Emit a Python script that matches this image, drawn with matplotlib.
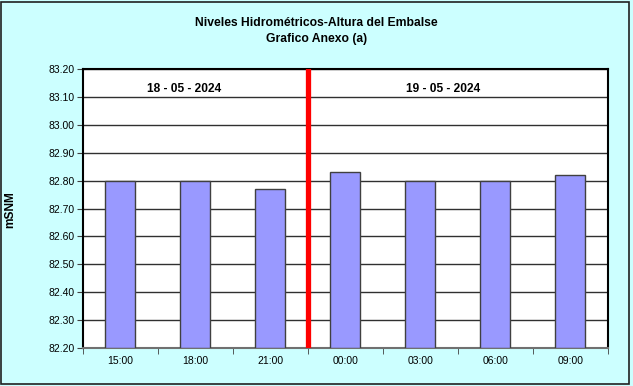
import matplotlib
matplotlib.use("Agg")
import matplotlib.pyplot as plt
from matplotlib.patches import Rectangle
import numpy as np

categories = ["15:00", "18:00", "21:00", "00:00", "03:00", "06:00", "09:00"]
values = [82.80, 82.80, 82.77, 82.83, 82.80, 82.80, 82.82]
yticks = [82.20, 82.30, 82.40, 82.50, 82.60, 82.70, 82.80, 82.90, 83.00, 83.10, 83.20]
dates = ["18 - 05 - 2024", "19 - 05 - 2024"]
separator_index = 2.5

plt.rcParams['font.family'] = ['Liberation Sans', 'DejaVu Sans']

fig = plt.figure(figsize=(6.33, 3.86), dpi=100)
fig.patch.set_facecolor("#CCFFFF")
fig.patches.append(Rectangle((0.002, 0.006), 0.991, 0.99, transform=fig.transFigure,
                             fill=False, edgecolor="#202020", linewidth=1.2))

ax = fig.add_axes([0.131, 0.0984, 0.8295, 0.7228])
ax.set_facecolor("white")
x = np.arange(len(categories))
ax.bar(x, [v - 82.2 for v in values], bottom=82.2, width=0.4, color="#9999FF",
       edgecolor="#404040", linewidth=1.0, zorder=3)
ax.set_xlim(-0.5, len(categories) - 0.5)
ax.set_ylim(82.2, 83.2)
ax.set_yticks(yticks)
ax.set_yticklabels([f"{t:.2f}" for t in yticks], fontsize=7.5)
ax.set_xticks(x)
ax.set_xticklabels(categories, fontsize=7.5)
ax.tick_params(axis='x', length=0, pad=6)
ax.set_xticks(np.arange(-0.5, len(categories)), minor=True)
ax.tick_params(axis='x', which='minor', length=4, color="#404040", direction='out')
ax.tick_params(axis='y', length=4, direction='out', color="#404040", pad=2)
ax.yaxis.grid(True, color="#303030", linewidth=1.0, zorder=0)
ax.set_axisbelow(True)
for s in ax.spines.values():
    s.set_color("black")
    s.set_linewidth(1.5)
ax.spines['bottom'].set_color("#707070")

ax.axvline(separator_index, color="#FF0000", linewidth=3.8, zorder=5)

ax.text(0.85, 83.13, dates[0], ha='center', va='center', fontsize=8.6, fontweight='bold')
ax.text(4.3, 83.13, dates[1], ha='center', va='center', fontsize=8.6, fontweight='bold')

fig.text(10 / 633, 1 - 210 / 386, "mSNM", rotation=90, ha='center', va='center',
         fontsize=8.6, fontweight='bold')

fig.text(0.5, 1 - 23 / 386, "Niveles Hidrométricos-Altura del Embalse", ha='center', va='center',
         fontsize=8.7, fontweight='bold')
fig.text(0.5, 1 - 39 / 386, "Grafico Anexo (a)", ha='center', va='center', fontsize=8.7, fontweight='bold')

fig.savefig("out.png", dpi=100, facecolor=fig.get_facecolor())
